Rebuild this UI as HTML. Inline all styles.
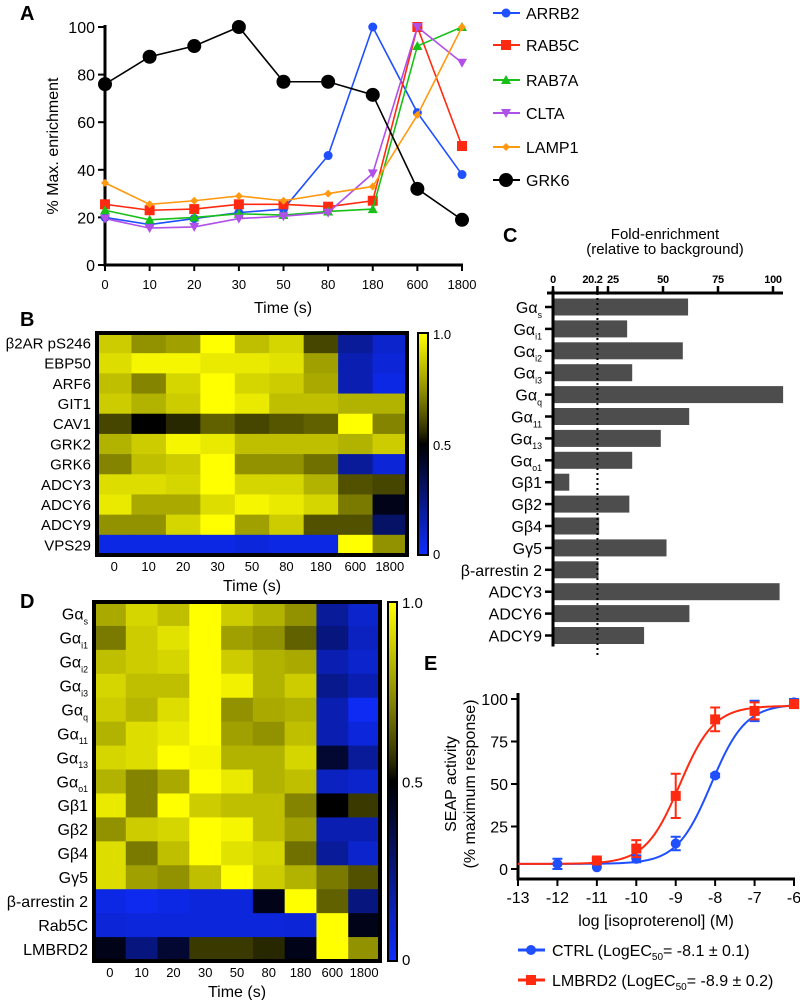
<!DOCTYPE html>
<html><head><meta charset="utf-8"><style>
body{margin:0;background:#fff}
svg{display:block;font-family:"Liberation Sans",Arial,sans-serif}
</style></head><body>
<svg id="fig" width="800" height="1000" viewBox="0 0 800 1000" xmlns="http://www.w3.org/2000/svg">
<g id="pA"></g>
<g id="pB"></g>
<g id="pC"></g>
<g id="pD"></g>
<g id="pE"></g>
</svg>
<script>
// ---------- Panel A data ----------
const timeLabels = ["0","10","20","30","50","80","180","600","1800"];
const aTicks = [0,20,40,60,80,100];
const arrb2 = [20,17,19.5,22,23.5,46,100,64,38];
const rab5c = [25.5,23,23.5,25.5,25.5,24.5,27,100,50];
const rab7a = [23,19,20,21.5,21,22.5,23.5,92,100];
const clta  = [19.5,15.5,16,19.5,20.5,22,38.5,100,85];
const lamp1 = [34.5,25.5,27,29,27,30,33,63,100];
const grk6  = [76,87.5,92,100,77,77,71.5,32,19];
const aSeriesNames = ["ARRB2","RAB5C","RAB7A","CLTA","LAMP1","GRK6"];

// ---------- Panel B data ----------
const bRows = ["β2AR pS246","EBP50","ARF6","GIT1","CAV1","GRK2","GRK6","ADCY3","ADCY6","ADCY9","VPS29"];
const bVals = [
[.88,.75,.78,1,.85,.9,.6,.2,.1],
[.92,.98,.98,.95,.95,.93,.78,.15,.08],
[.85,.72,.9,1,.9,.88,.8,.15,.05],
[.88,.82,.88,1,.95,.85,.85,.82,.82],
[.6,.5,.55,.65,.6,.63,.65,1,.72],
[.82,.88,.98,.95,.85,.85,.85,.82,.88],
[.72,.85,.88,1,.75,.75,.68,.2,.08],
[.92,.92,.9,1,.9,.9,.82,.62,.6],
[.95,.8,.8,.92,.98,.95,.9,.7,.45],
[.75,.75,.9,1,.78,.88,.62,.62,.3],
[.05,.05,.05,.05,.07,.05,.05,1,.75]];

// ---------- Panel C data ----------
const cLabels = [["Gα","s"],["Gα","i1"],["Gα","i2"],["Gα","i3"],["Gα","q"],["Gα","11"],["Gα","13"],["Gα","o1"],["Gβ1",""],["Gβ2",""],["Gβ4",""],["Gγ5",""],["β-arrestin 2",""],["ADCY3",""],["ADCY6",""],["ADCY9",""]];
const cValues = [61.4,33.7,59,36,104.6,61.9,49,36,7.4,34.7,21,51.6,20.7,103,62,41.4];
const cTicks = ["0","20.2","25","50","75","100"];
const cThreshold = 20.2;

// ---------- Panel D data ----------
const dRows = [["Gα","s"],["Gα","i1"],["Gα","i2"],["Gα","i3"],["Gα","q"],["Gα","11"],["Gα","13"],["Gα","o1"],["Gβ1",""],["Gβ2",""],["Gβ4",""],["Gγ5",""],["β-arrestin 2",""],["Rab5C",""],["LMBRD2",""]];
const dVals = [
[.8,.9,.85,1,.88,.82,.75,.2,.1],
[.7,.88,.93,1,.78,.75,.65,.25,.12],
[.85,.88,.9,1,.88,.82,.8,.15,.1],
[.9,.85,.85,1,.97,.82,.88,.22,.15],
[.88,.83,.92,1,.75,.8,.82,.15,.02],
[.82,.92,.95,1,.78,.75,.85,.15,.07],
[.9,.92,1,.98,.82,.82,.9,.4,.2],
[.82,.72,.8,1,.95,.82,.85,.12,.1],
[.95,.72,1,.88,.85,.85,.72,.5,.58],
[.75,.88,.9,1,.98,.85,.78,.15,.15],
[.92,.7,.85,1,.93,.9,.68,.2,.1],
[.92,.78,.75,.85,1,.88,.82,.7,.62],
[.05,.03,.05,.07,.07,.45,1,.65,.25],
[.08,.07,.07,.07,.07,.07,.08,1,.45],
[.45,.25,.4,.58,.58,.55,.45,1,.75]];

// ---------- Panel E data ----------
const eXTicks = [-13,-12,-11,-10,-9,-8,-7,-6];
const eYTicks = [0,25,50,75,100];
const ctrlX = [-12,-11,-10,-9,-8,-7,-6];
const ctrlY = [3,1,6,15,55,93,98];
const ctrlErr = [3,0,2,4,1,6,2];
const lmX = [-11,-10,-9,-8,-7,-6];
const lmY = [5,12,43,88,93,97];
const lmErr = [1,5,13,7,5,2];
const ctrlFit = [3,97,-8.1,1];   // bottom, top, logEC50, hill
const lmFit = [3,96,-8.9,1];

const NS="http://www.w3.org/2000/svg";
function mk(parent,tag,attrs,text){const e=document.createElementNS(NS,tag);for(const k in attrs)e.setAttribute(k,attrs[k]);if(text!==undefined)e.textContent=text;parent.appendChild(e);return e;}
function cmap(v){let r,g,b;if(v<0.5){const t=v/0.5;r=15*(1-t);g=45*(1-t);b=255*(1-t);}else{const t=Math.pow((v-0.5)/0.5,0.8);r=255*t;g=255*t;b=0;}return `rgb(${r|0},${g|0},${b|0})`;}
function subLabel(parent,x,y,main,sub,size,name){
  const t=mk(parent,"text",{x:x,y:y,"text-anchor":"end","font-size":size});
  
  
  mk(t,"tspan",{},main);
  if(sub){mk(t,"tspan",{"font-size":size*0.55,dy:size*0.3},sub);}
  return t;
}

// ================= Panel A =================
(function(){
const g=document.getElementById("pA");
const x0=105,x1=462,y0=265,y1=27;
const xs=i=>x0+i*(x1-x0)/8, ys=v=>y0-(v/100)*(y0-y1);
let t=mk(g,"text",{x:20,y:20,"font-size":20,"font-weight":"bold"},"A");

let ax=mk(g,"path",{d:`M${x0} ${y1-2}V${y0}H${x1+1}`,stroke:"#000","stroke-width":3,fill:"none"});

aTicks.forEach(v=>{mk(g,"line",{x1:x0-7,x2:x0,y1:ys(v),y2:ys(v),stroke:"#000","stroke-width":2});
 const l=mk(g,"text",{x:x0-10,y:ys(v)+6,"text-anchor":"end","font-size":16},String(v));
 });
timeLabels.forEach((s,i)=>{mk(g,"line",{x1:xs(i),x2:xs(i),y1:y0,y2:y0+6,stroke:"#000","stroke-width":2});
 const l=mk(g,"text",{x:xs(i),y:289,"text-anchor":"middle","font-size":13},s);
 });
t=mk(g,"text",{x:283,y:313,"text-anchor":"middle","font-size":16},"Time (s)");

t=mk(g,"text",{x:0,y:0,"text-anchor":"middle","font-size":16,transform:"translate(58,146) rotate(-90)"},"% Max. enrichment");

const series=[arrb2,rab5c,rab7a,clta,lamp1,grk6];
const cols=["#1f4fff","#ff2a10","#18c018","#b050e8","#ff9a10","#000"];
function marker(p,k,x,y,c){
  let m;
  if(k===0)m=mk(p,"circle",{cx:x,cy:y,r:4.5,fill:c});
  else if(k===1)m=mk(p,"rect",{x:x-5,y:y-5,width:10,height:10,fill:c});
  else if(k===2)m=mk(p,"path",{d:`M${x} ${y-5}L${x+5} ${y+4}L${x-5} ${y+4}Z`,fill:c});
  else if(k===3)m=mk(p,"path",{d:`M${x} ${y+5}L${x+5} ${y-4}L${x-5} ${y-4}Z`,fill:c});
  else if(k===4)m=mk(p,"path",{d:`M${x} ${y-4}L${x+4} ${y}L${x} ${y+4}L${x-4} ${y}Z`,fill:c});
  else m=mk(p,"circle",{cx:x,cy:y,r:7,fill:c});
  return m;
}
series.forEach((s,k)=>{
  const sg=mk(g,"g",{});
  
  
  mk(sg,"polyline",{points:s.map((v,i)=>xs(i)+","+ys(v)).join(" "),fill:"none",stroke:cols[k],"stroke-width":1.6});
  s.forEach((v,i)=>{const m=marker(sg,k,xs(i),ys(v),cols[k]);
    
    });
  const ly=[13,45,80,113,147,180][k];
  const lg=mk(g,"g",{});
  
  
  mk(lg,"line",{x1:493,x2:520,y1:ly,y2:ly,stroke:cols[k],"stroke-width":2});
  marker(lg,k,506,ly,cols[k]);
  mk(lg,"text",{x:526,y:ly+6,"font-size":16},aSeriesNames[k]);
});
})();

// ================= Heatmap helper =================
function heatmap(g,vals,rows,opt){
  const {x0,x1,y0,y1,size,pre,cbx,cbw,tickSize}=opt;
  const nr=vals.length,nc=vals[0].length,cw=(x1-x0)/nc,rh=(y1-y0)/nr;
  vals.forEach((row,r)=>row.forEach((v,c)=>{
    const cell=mk(g,"rect",{x:x0+c*cw,y:y0+r*rh,width:cw+0.6,height:rh+0.6,fill:cmap(v)});
    
    
  }));
  const fr=mk(g,"rect",{x:x0,y:y0,width:x1-x0,height:y1-y0,fill:"none",stroke:"#000","stroke-width":4});
  
  rows.forEach((lab,r)=>{
    const yy=y0+(r+0.5)*rh+size*0.36;
    if(Array.isArray(lab))subLabel(g,x0-6,yy,lab[0],lab[1],size,pre+'-row-label');
    else{const t=mk(g,"text",{x:x0-6,y:yy,"text-anchor":"end","font-size":size},lab);
      }
  });
  timeLabels.forEach((s,c)=>{const t=mk(g,"text",{x:x0+(c+0.5)*cw,y:y1+16,"text-anchor":"middle","font-size":tickSize},s);
    });
  const tt=mk(g,"text",{x:(x0+x1)/2,y:y1+36,"text-anchor":"middle","font-size":16},"Time (s)");
  
  const gid=pre+"grad";
  const defs=mk(g,"defs",{});const lg=mk(defs,"linearGradient",{id:gid,x1:0,y1:1,x2:0,y2:0});
  for(let i=0;i<=20;i++)mk(lg,"stop",{offset:i/20,"stop-color":cmap(i/20)});
  const cb=mk(g,"rect",{x:cbx,y:y0,width:cbw,height:y1-y0,fill:`url(#${gid})`,stroke:"#000","stroke-width":2});
  
  [["1.0",y0+6],["0.5",(y0+y1)/2+6],["0",y1+4]].forEach(([s,yy])=>{
    const t=mk(g,"text",{x:cbx+cbw+5,y:yy,"font-size":opt.cbSize},s);
    });
}

// ================= Panel B =================
(function(){
const g=document.getElementById("pB");
const t=mk(g,"text",{x:20,y:326,"font-size":20,"font-weight":"bold"},"B");

heatmap(g,bVals,bRows,{x0:97,x1:407,y0:333,y1:555,size:15,pre:"b",cbx:418,cbw:10,tickSize:13,cbSize:13});
})();

// ================= Panel C =================
(function(){
const g=document.getElementById("pC");
const x0=553,sc=2.2,ax=293,pitch=21.9,top=307,bh=17;
const xs=v=>x0+v*sc;
let t=mk(g,"text",{x:503,y:242,"font-size":20,"font-weight":"bold"},"C");

t=mk(g,"text",{x:665,y:239,"text-anchor":"middle","font-size":15},"Fold-enrichment");

t=mk(g,"text",{x:665,y:254,"text-anchor":"middle","font-size":15},"(relative to background)");

cValues.forEach((v,i)=>{const yc=top+i*pitch;
  const b=mk(g,"rect",{x:x0,y:yc-bh/2,width:v*sc,height:bh,fill:"#4d4d4d"});
  
  
  mk(g,"line",{x1:x0-8,x2:x0,y1:yc,y2:yc,stroke:"#000","stroke-width":2.5});
  subLabel(g,x0-11,yc+6,cLabels[i][0],cLabels[i][1],16,'c-category-label');
});
const ay=mk(g,"path",{d:`M${x0} ${ax-3}V${top+15.5*pitch}M${x0-6} ${ax}H${783}`,stroke:"#000","stroke-width":3,fill:"none"});

cTicks.forEach(s=>{const v=parseFloat(s);mk(g,"line",{x1:xs(v),x2:xs(v),y1:ax-7,y2:ax,stroke:"#000","stroke-width":2.5});
  const dx = s==="20.2" ? -5 : (s==="25" ? 5 : 0);
  const l=mk(g,"text",{x:xs(v)+dx,y:ax-10,"text-anchor":"middle","font-size":11,"font-weight":"bold","letter-spacing":"-0.3"},s);
  });
const dl=mk(g,"line",{x1:xs(cThreshold),x2:xs(cThreshold),y1:ax,y2:top+16*pitch-2,stroke:"#000","stroke-width":2,"stroke-dasharray":"2,3"});

})();

// ================= Panel D =================
(function(){
const g=document.getElementById("pD");
const t=mk(g,"text",{x:20,y:608,"font-size":20,"font-weight":"bold"},"D");

heatmap(g,dVals,dRows,{x0:94,x1:380,y0:602,y1:961,size:16,pre:"d",cbx:388,cbw:9,tickSize:13,cbSize:15});
})();

// ================= Panel E =================
(function(){
const g=document.getElementById("pE");
const x0=518,xe=794,y0=869,y100=699,axY=879;
const xs=v=>x0+(v+13)*(xe-x0)/7, ys=v=>y0-v*(y0-y100)/100;
let t=mk(g,"text",{x:424,y:670,"font-size":20,"font-weight":"bold"},"E");

const ax=mk(g,"path",{d:`M${x0} 693V${axY}H${xe+1}`,stroke:"#000","stroke-width":3,fill:"none"});

eYTicks.forEach(v=>{mk(g,"line",{x1:x0-7,x2:x0,y1:ys(v),y2:ys(v),stroke:"#000","stroke-width":2});
  const l=mk(g,"text",{x:x0-10,y:ys(v)+6,"text-anchor":"end","font-size":16},String(v));
  });
eXTicks.forEach(v=>{mk(g,"line",{x1:xs(v),x2:xs(v),y1:axY,y2:axY+7,stroke:"#000","stroke-width":2});
  const l=mk(g,"text",{x:xs(v),y:903,"text-anchor":"middle","font-size":16},String(v));
  });
t=mk(g,"text",{x:656,y:926,"text-anchor":"middle","font-size":16},"log [isoproterenol] (M)");

t=mk(g,"text",{x:0,y:0,"text-anchor":"middle","font-size":16,transform:"translate(456,784) rotate(-90)"},"SEAP activity");

t=mk(g,"text",{x:0,y:0,"text-anchor":"middle","font-size":16,transform:"translate(475,784) rotate(-90)"},"(% maximum response)");

function curve(p,col,name){let pts=[];for(let x=-13;x<=-6.0001+0.05;x+=0.05){const y=p[0]+(p[1]-p[0])/(1+Math.pow(10,(p[2]-x)*p[3]));pts.push(xs(x)+","+ys(y));}
  const c=mk(g,"polyline",{points:pts.join(" "),fill:"none",stroke:col,"stroke-width":2});
  }
curve(ctrlFit,"#1f4fff","ctrl-fit-curve");
curve(lmFit,"#ff2a10","lmbrd2-fit-curve");
function pts(X,Y,E,col,sq,name){X.forEach((x,i)=>{const cx=xs(x),cy=ys(Y[i]);
  if(E[i]>0){mk(g,"path",{d:`M${cx} ${ys(Y[i]+E[i])}V${ys(Y[i]-E[i])}M${cx-5} ${ys(Y[i]+E[i])}h10M${cx-5} ${ys(Y[i]-E[i])}h10`,stroke:col,"stroke-width":2,fill:"none"});}
  const m=sq?mk(g,"rect",{x:cx-5,y:cy-5,width:10,height:10,fill:col}):mk(g,"circle",{cx:cx,cy:cy,r:5,fill:col});
  });}
pts(ctrlX,ctrlY,ctrlErr,"#1f4fff",false,"ctrl-point");
pts(lmX,lmY,lmErr,"#ff2a10",true,"lmbrd2-point");
[["CTRL (LogEC","50","= -8.1 ± 0.1)","#1f4fff",950,false,"legend-entry-ctrl"],["LMBRD2 (LogEC","50","= -8.9 ± 0.2)","#ff2a10",980,true,"legend-entry-lmbrd2"]].forEach(([a,s,b,col,y,sq,name])=>{
  const lg=mk(g,"g",{});
  
  
  mk(lg,"line",{x1:518,x2:545,y1:y,y2:y,stroke:col,"stroke-width":3});
  if(sq)mk(lg,"rect",{x:526,y:y-5,width:10,height:10,fill:col});else mk(lg,"circle",{cx:531,cy:y,r:5,fill:col});
  const tx=mk(lg,"text",{x:552,y:y+6,"font-size":16});
  mk(tx,"tspan",{},a);mk(tx,"tspan",{"font-size":10,dy:4},s);mk(tx,"tspan",{dy:-4},b);
});
})();
</script>
</body></html>
